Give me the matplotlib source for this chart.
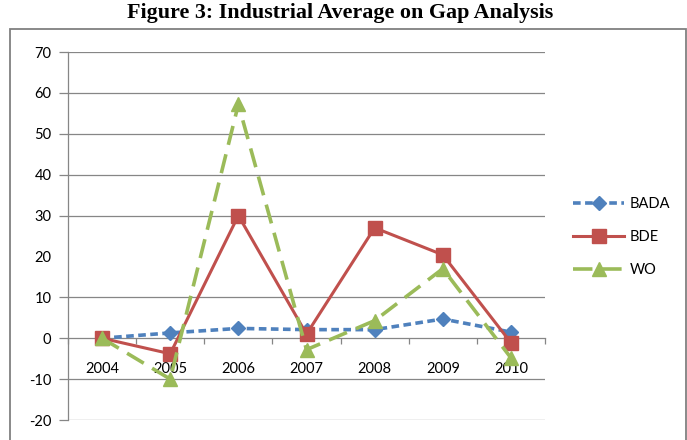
import matplotlib

matplotlib.use("Agg")
import matplotlib.pyplot as plt
from matplotlib.patches import Rectangle
from matplotlib.ticker import FixedLocator

YEARS = ["2004", "2005", "2006", "2007", "2008", "2009", "2010"]
BADA = [0.0, 1.3, 2.4, 2.1, 2.1, 4.7, 1.5]
BDE = [0.0, -3.8, 30.0, 1.0, 27.0, 20.4, -1.1]
WO = [0.0, -10.0, 57.2, -2.8, 4.3, 17.0, -4.8]
Y_TICKS = [-20, -10, 0, 10, 20, 30, 40, 50, 60, 70]

GRID = "#868686"

plt.rcParams["font.family"] = ["Lato", "DejaVu Sans"]
plt.rcParams["lines.scale_dashes"] = False

fig = plt.figure(figsize=(6.87, 4.40), dpi=100)
ax = fig.add_axes([68 / 687, 1 - 420 / 440, (545 - 68) / 687, (420 - 52) / 440])

x = list(range(len(YEARS)))
ax.plot(x, BADA, color="#4F81BD", linewidth=2.6, dashes=(5.5, 3.2),
        marker="D", markersize=7.5, label="BADA", zorder=3)
ax.plot(x, BDE, color="#C0504D", linewidth=2.2,
        marker="s", markersize=10, label="BDE", zorder=4)
ax.plot(x, WO, color="#9BBB59", linewidth=2.6, dashes=(14, 7),
        marker="^", markersize=10, label="WO", zorder=5)

ax.set_xlim(-0.5, len(YEARS) - 0.5)
ax.set_ylim(-20, 70)
ax.set_yticks(Y_TICKS)
ax.set_yticklabels([str(v) for v in Y_TICKS])
ax.set_xticks(x)
ax.set_xticklabels(YEARS)
ax.xaxis.set_minor_locator(FixedLocator([i + 0.5 for i in range(-1, len(YEARS))]))

for v in Y_TICKS:
    if v in (0, 20):
        continue
    ax.axhline(v, color=GRID, linewidth=0.9, zorder=1)

for side in ("top", "right"):
    ax.spines[side].set_visible(False)
ax.spines["left"].set_color(GRID)
ax.spines["left"].set_linewidth(0.9)
ax.spines["bottom"].set_position(("data", 0))
ax.spines["bottom"].set_color(GRID)
ax.spines["bottom"].set_linewidth(0.9)

ax.tick_params(axis="y", direction="out", length=6.5, width=0.9, color=GRID,
               pad=5.5, labelsize=10.5, labelcolor="#000000")
ax.tick_params(axis="x", which="major", length=0, pad=17, labelsize=10.5)
ax.tick_params(axis="x", which="minor", direction="out", length=4.3, width=0.9, color=GRID)
# the 20 tick mark is missing in the reference
for tick in ax.yaxis.get_major_ticks():
    if tick.get_loc() == 20:
        tick.tick1line.set_visible(False)

fig.legend(loc="center left", bbox_to_anchor=(573 / 687, 1 - 237 / 440), frameon=False,
           fontsize=10.5, handlelength=3.5, handletextpad=0.4, labelspacing=1.3,
           borderpad=0, borderaxespad=0, numpoints=1)

fig.add_artist(Rectangle((10 / 687, -0.1), (686 - 10) / 687, 1.1 - 29 / 440,
                         transform=fig.transFigure, fill=False, edgecolor="#808080",
                         linewidth=1.3))
fig.text(340 / 687, 1 - 13 / 440, "Figure 3: Industrial Average on Gap Analysis",
         ha="center", va="center", fontfamily="Liberation Serif", fontweight="bold",
         fontsize=15.8)

fig.savefig("out.png", dpi=100)
